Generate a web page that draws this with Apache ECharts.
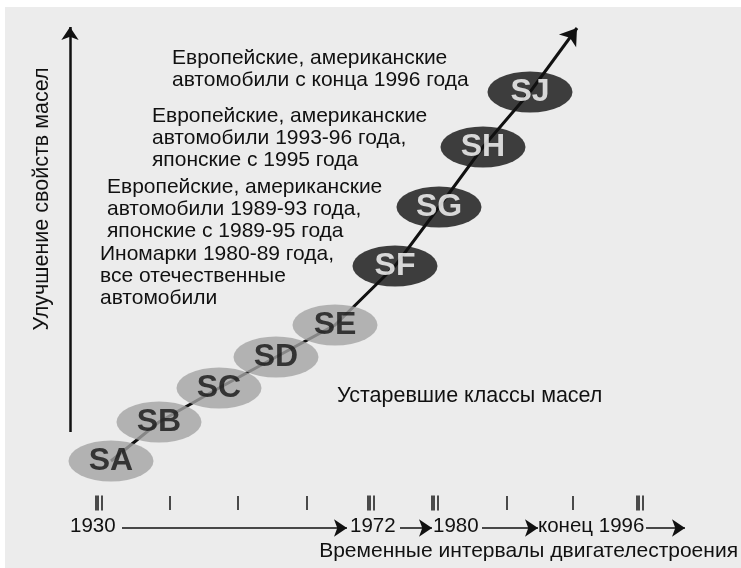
<!DOCTYPE html>
<html>
<head>
<meta charset="utf-8">
<script src="https://cdn.jsdelivr.net/npm/echarts@6/dist/echarts.min.js"></script>
<style>
  html, body { margin: 0; padding: 0; background: #ececec; }
  #chart { width: 741px; height: 568px; }
</style>
</head>
<body>
<div id="chart"></div>
<script>
// oil classes along the improvement line (x = time, y = quality, picture units)
const classNames = ["SA", "SB", "SC", "SD", "SE", "SF", "SG", "SH", "SJ"];
const classX = [111, 159, 219, 276, 335, 395, 439, 483, 530];
const classY = [461, 422, 388, 357, 325, 266, 207, 147, 92];
const obsolete = [1, 1, 1, 1, 1, 0, 0, 0, 0];
const arrowTip = [577, 28];

// time scale ticks under the chart
const tickX = [98, 170, 238, 307, 370, 434, 507, 573, 639];
const tickDouble = [1, 0, 0, 0, 1, 1, 0, 0, 1];

// description of the current classes (SJ, SH, SG, SF)
const notes = [
  ["Европейские, американские", "автомобили с конца 1996 года"],
  ["Европейские, американские", "автомобили 1993-96 года,", "японские с 1995 года"],
  ["Европейские, американские", "автомобили 1989-93 года,", "японские с 1989-95 года"],
  ["Иномарки 1980-89 года,", "все отечественные", "автомобили"]
];
const noteLeft = [172, 152, 107, 100];
const noteTop = [47, 105, 176, 243];

const timeLabels = ["1930", "1972", "1980", "конец 1996"];
const timeLabelX = [70, 350, 433, 538];
const timeArrows = [[122, 347], [400, 432], [482, 538], [646, 685]];

const yTitle = "Улучшение свойств масел";
const xTitle = "Временные интервалы двигателестроения";
const oldTitle = "Устаревшие классы масел";

const FONT = "'Liberation Sans', Arial, sans-serif";
const ellipse = "path://M0,50 A50,50 0 1,1 100,50 A50,50 0 1,1 0,50 Z";

let myChart = echarts.init(document.getElementById("chart"));

let classData = classNames.map(function (n, i) {
  return {
    name: n,
    value: [classX[i], classY[i]],
    itemStyle: { color: obsolete[i] ? "#a4a4a4" : "#121212" },
    label: { color: obsolete[i] ? "#141414" : "#ffffff" }
  };
});

let pathCoords = classX.map(function (x, i) { return [x, classY[i]]; });

let tickData = [];
tickX.forEach(function (x, i) {
  if (tickDouble[i]) {
    tickData.push({ value: [x - 1, 503], symbolSize: [4, 15] });
    tickData.push({ value: [x + 4, 503], symbolSize: [2, 15] });
  } else {
    tickData.push({ value: [x, 503], symbolSize: [2, 14] });
  }
});

let axisArrows = [{ coords: [[70, 432], [70, 27]], lineStyle: { width: 2.5 } }];
timeArrows.forEach(function (a) {
  axisArrows.push({ coords: [[a[0], 528], [a[1], 528]], lineStyle: { width: 1.5 } });
});

let graphics = [
  { type: "rect", shape: { x: 0, y: 0, width: 741, height: 7 }, style: { fill: "#ffffff" } },
  { type: "rect", shape: { x: 0, y: 0, width: 5, height: 568 }, style: { fill: "#ffffff" } },
  {
    type: "text", x: 42, y: 199, rotation: Math.PI / 2,
    style: { text: yTitle, font: "21.5px " + FONT, fill: "#111", align: "center", verticalAlign: "middle" }
  },
  {
    type: "text", left: 337, top: 385,
    style: { text: oldTitle, font: "21.5px " + FONT, fill: "#111" }
  },
  {
    type: "text", right: 3, top: 541,
    style: { text: xTitle, font: "21px " + FONT, fill: "#111" }
  }
];
notes.forEach(function (lines, i) {
  graphics.push({
    type: "text", left: noteLeft[i], top: noteTop[i],
    style: { text: lines.join("\n"), font: "21px " + FONT, fill: "#111", lineHeight: 22 }
  });
});
timeLabels.forEach(function (t, i) {
  graphics.push({
    type: "text", left: timeLabelX[i], top: 516,
    style: { text: t, font: "20.5px " + FONT, fill: "#111" }
  });
});

let option = {
  backgroundColor: "#ececec",
  animation: false,
  grid: { left: 0, right: 0, top: 0, bottom: 0 },
  xAxis: { type: "value", min: 0, max: 741, show: false },
  yAxis: { type: "value", min: 0, max: 568, inverse: true, show: false },
  graphic: graphics,
  series: [
    {
      type: "lines",
      coordinateSystem: "cartesian2d",
      polyline: true,
      lineStyle: { color: "#111", width: 3, opacity: 1 },
      z: 1,
      data: [{ coords: pathCoords }]
    },
    {
      type: "lines",
      coordinateSystem: "cartesian2d",
      symbol: ["none", "arrow"],
      symbolSize: 16,
      lineStyle: { color: "#111", width: 3, opacity: 1 },
      z: 1,
      data: [{ coords: [pathCoords[pathCoords.length - 1], arrowTip] }]
    },
    {
      type: "lines",
      coordinateSystem: "cartesian2d",
      symbol: ["none", "arrow"],
      symbolSize: 13,
      lineStyle: { color: "#111", opacity: 1 },
      z: 1,
      data: axisArrows
    },
    {
      type: "scatter",
      symbol: ellipse,
      symbolSize: [85, 41],
      z: 3,
      label: {
        show: true,
        position: "inside",
        formatter: "{b}",
        fontFamily: FONT,
        fontWeight: "bold",
        fontSize: 32
      },
      data: classData
    },
    {
      type: "scatter",
      symbol: "rect",
      itemStyle: { color: "#222" },
      z: 2,
      data: tickData
    }
  ]
};

if (option && typeof option === "object") {
  myChart.setOption(option);
}
window.addEventListener("resize", myChart.resize);
</script>
</body>
</html>
